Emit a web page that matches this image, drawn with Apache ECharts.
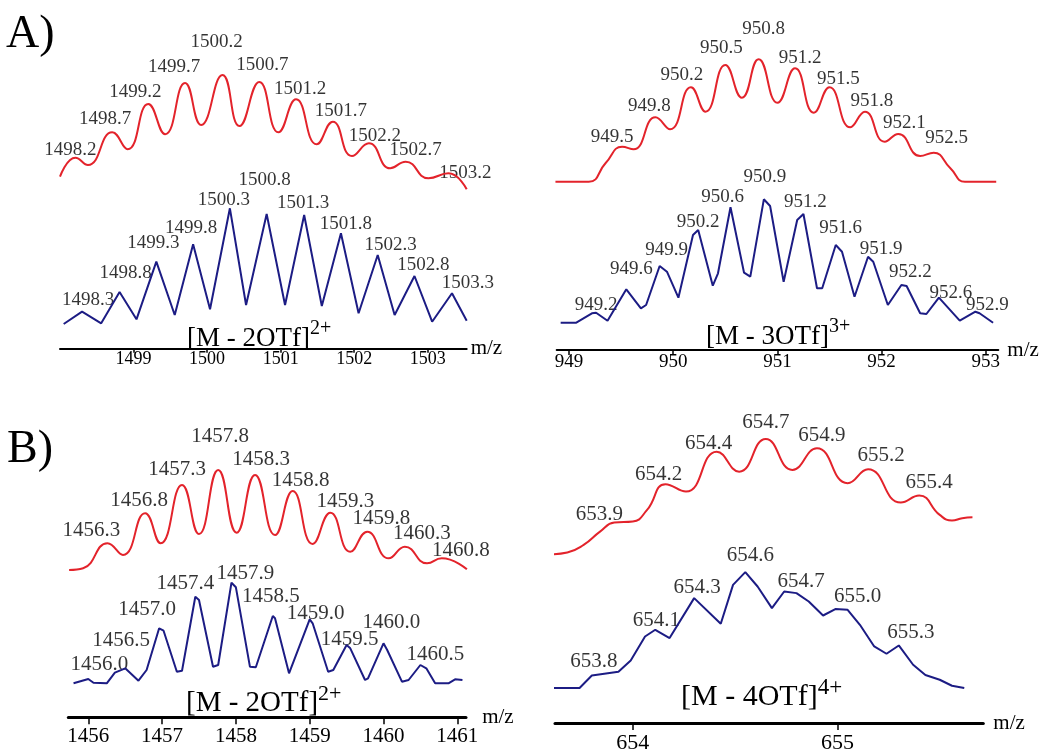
<!DOCTYPE html>
<html>
<head>
<meta charset="utf-8">
<script src="https://cdn.jsdelivr.net/npm/echarts@6/dist/echarts.min.js"></script>
<style>
  html, body { margin: 0; padding: 0; background: #fff; }
  #chart { width: 1050px; height: 754px; }
</style>
</head>
<body>
<div id="chart"></div>
<script>

// A) left: [M - 2OTf]2+
const aLeftTicks = [1499, 1500, 1501, 1502, 1503];
const aLeftRedMz = [1498.00, 1498.21, 1498.38, 1498.71, 1498.92, 1499.20, 1499.43, 1499.70, 1499.92, 1500.21, 1500.44, 1500.71, 1500.97, 1501.21, 1501.49, 1501.71, 1501.97, 1502.20, 1502.49, 1502.70, 1503.01, 1503.28, 1503.53];
const aLeftRedH = [172, 191, 183.7, 216.4, 199.4, 244.7, 214.4, 265.7, 223.7, 273.7, 222.7, 266.7, 216.4, 249.4, 204.4, 227, 192.7, 205.4, 180.4, 187, 170.4, 175.4, 159.4];
const aLeftRedPeakIdx = [1, 3, 5, 7, 9, 11, 13, 15, 17, 19, 21];
const aLeftRedPeakLabels = ['1498.2', '1498.7', '1499.2', '1499.7', '1500.2', '1500.7', '1501.2', '1501.7', '1502.2', '1502.7', '1503.2'];
const aLeftBlueMz = [1498.05, 1498.30, 1498.56, 1498.81, 1499.04, 1499.31, 1499.56, 1499.81, 1500.04, 1500.31, 1500.53, 1500.81, 1501.06, 1501.32, 1501.56, 1501.82, 1502.06, 1502.32, 1502.55, 1502.82, 1503.06, 1503.33, 1503.53];
const aLeftBlueH = [24.7, 37, 25.4, 56.7, 29.4, 87, 33.7, 104.4, 39.4, 140.4, 43.7, 134.7, 43.7, 133.7, 42.7, 115.4, 35.4, 93.7, 33.7, 72.7, 27, 55.4, 28];
const aLeftBluePeakIdx = [1, 3, 5, 7, 9, 11, 13, 15, 17, 19, 21];
const aLeftBluePeakLabels = ['1498.3', '1498.8', '1499.3', '1499.8', '1500.3', '1500.8', '1501.3', '1501.8', '1502.3', '1502.8', '1503.3'];

// A) right: [M - 3OTf]3+
const aRightTicks = [949, 950, 951, 952, 953];
const aRightRedMz = [948.87, 949.19, 949.35, 949.51, 949.62, 949.83, 949.97, 950.17, 950.31, 950.50, 950.66, 950.82, 951.00, 951.17, 951.35, 951.50, 951.70, 951.84, 952.03, 952.16, 952.37, 952.50, 952.66, 952.80, 953.10];
const aRightRedH = [168.3, 168.3, 186.7, 203.3, 200.7, 232.7, 220.7, 262.7, 238.3, 285, 252.3, 290.7, 247.3, 281.7, 237.3, 262.7, 222.7, 238.3, 208.3, 216, 194, 197.3, 181.7, 168.3, 168.3];
const aRightRedPeakIdx = [3, 5, 7, 9, 11, 13, 15, 17, 19, 21];
const aRightRedPeakLabels = ['949.5', '949.8', '950.2', '950.5', '950.8', '951.2', '951.5', '951.8', '952.1', '952.5'];
const aRightBlueMz = [948.92, 949.07, 949.22, 949.26, 949.37, 949.55, 949.69, 949.74, 949.87, 949.94, 950.05, 950.19, 950.24, 950.38, 950.43, 950.55, 950.68, 950.74, 950.87, 950.93, 951.06, 951.19, 951.25, 951.38, 951.43, 951.56, 951.62, 951.74, 951.87, 951.92, 952.06, 952.19, 952.24, 952.37, 952.43, 952.55, 952.75, 952.90, 952.94, 953.07];
const aRightBlueH = [27.3, 27.3, 36.7, 37.3, 29.3, 60.7, 41.7, 45, 84, 78.3, 52.3, 115, 120, 64.3, 76.7, 142.7, 77.3, 73.3, 150.7, 144, 68.3, 130, 136, 61.7, 61.7, 105, 98.3, 53.3, 93.3, 88.3, 45, 65, 64, 36.7, 36, 52.3, 29.3, 38.3, 36.7, 27.3];
const aRightBluePeakIdx = [3, 5, 8, 12, 15, 18, 22, 25, 28, 31, 35, 37];
const aRightBluePeakLabels = ['949.2', '949.6', '949.9', '950.2', '950.6', '950.9', '951.2', '951.6', '951.9', '952.2', '952.6', '952.9'];

// B) left: [M - 2OTf]2+
const bLeftTicks = [1456, 1457, 1458, 1459, 1460, 1461];
const bLeftRedMz = [1455.74, 1455.93, 1456.26, 1456.47, 1456.77, 1456.98, 1457.27, 1457.50, 1457.76, 1458.01, 1458.26, 1458.53, 1458.77, 1459.04, 1459.28, 1459.55, 1459.78, 1460.07, 1460.29, 1460.59, 1460.79, 1461.13];
const bLeftRedH = [147.3, 149, 174, 162.3, 204, 174, 232.3, 183.3, 247.3, 184.6, 242.3, 182.3, 226.3, 173.3, 204.6, 165.6, 185.6, 159, 170.6, 154, 159, 148];
const bLeftRedPeakIdx = [2, 4, 6, 8, 10, 12, 14, 16, 18, 20];
const bLeftRedPeakLabels = ['1456.3', '1456.8', '1457.3', '1457.8', '1458.3', '1458.8', '1459.3', '1459.8', '1460.3', '1460.8'];
const bLeftBlueMz = [1455.80, 1456.00, 1456.07, 1456.25, 1456.36, 1456.50, 1456.68, 1456.79, 1456.96, 1457.02, 1457.20, 1457.27, 1457.45, 1457.50, 1457.69, 1457.76, 1457.94, 1458.00, 1458.19, 1458.27, 1458.50, 1458.53, 1458.72, 1459.00, 1459.04, 1459.25, 1459.32, 1459.50, 1459.55, 1459.75, 1459.79, 1460.00, 1460.05, 1460.25, 1460.34, 1460.50, 1460.58, 1460.70, 1460.88, 1460.97, 1461.07];
const bLeftBlueH = [34, 38.3, 34.6, 34, 44.6, 49, 36.6, 47.3, 89, 86.6, 45.6, 46.6, 120.6, 117.3, 50.6, 52.3, 134.6, 130, 50.6, 50, 101.3, 99, 44, 98, 94, 45.6, 47.3, 72.3, 69, 37.3, 39, 74, 67.3, 35.6, 37.3, 52.3, 49, 34, 34, 38, 37.3];
const bLeftBluePeakIdx = [1, 5, 8, 12, 16, 20, 23, 27, 31, 35];
const bLeftBluePeakLabels = ['1456.0', '1456.5', '1457.0', '1457.4', '1457.9', '1458.5', '1459.0', '1459.5', '1460.0', '1460.5'];

// B) right: [M - 4OTf]4+
const bRightTicks = [654, 655];
const bRightRedMz = [653.61, 653.68, 653.76, 653.84, 653.91, 654.00, 654.07, 654.16, 654.26, 654.41, 654.52, 654.65, 654.78, 654.90, 655.05, 655.15, 655.31, 655.40, 655.50, 655.56, 655.61, 655.66];
const bRightRedH = [169, 170.6, 178.3, 191.6, 200.6, 201.6, 213.3, 239, 231.6, 271.6, 251.6, 284.3, 253.3, 275, 240, 254, 220.6, 227.6, 208.3, 202.6, 205, 206];
const bRightRedPeakIdx = [4, 7, 9, 11, 13, 15, 17];
const bRightRedPeakLabels = ['653.9', '654.2', '654.4', '654.7', '654.9', '655.2', '655.4'];
const bRightBlueMz = [653.61, 653.74, 653.80, 653.93, 653.99, 654.06, 654.11, 654.18, 654.30, 654.43, 654.49, 654.55, 654.61, 654.68, 654.74, 654.80, 654.86, 654.93, 654.99, 655.05, 655.11, 655.18, 655.24, 655.30, 655.37, 655.43, 655.50, 655.56, 655.62];
const bRightBlueH = [35, 35, 47.6, 51.3, 62.6, 86.6, 93.3, 85, 125, 99.3, 138.3, 151, 136.6, 115, 131.6, 130, 121.6, 107.6, 114, 113.3, 98.3, 76.6, 69.3, 77.6, 58.3, 48, 43.3, 37.3, 35];
const bRightBluePeakIdx = [2, 6, 8, 11, 14, 19, 23];
const bRightBluePeakLabels = ['653.8', '654.1', '654.3', '654.6', '654.7', '655.0', '655.3'];

const RED = '#e3232b';
const BLUE = '#1c1c84';
const INK = '#000';
const SERIF = 'Liberation Serif';

// label nudges [dx, px above the peak] - layout only
const panels = [
  {
    grid: {left: 60, top: 20, width: 406.7, height: 328.7}, min: 1498, max: 1503.53,
    ticks: aLeftTicks, tickFont: 18, margin: 2, tickLen: 4, axisW: 2, nameGap: 4, peakFont: 19,
    red: [aLeftRedMz, aLeftRedH, aLeftRedPeakIdx, aLeftRedPeakLabels,
      [[-5, 3], [-7, 9], [-13, 7], [-11, 11], [-6, 28], [3, 12], [4, 6], [8, 6], [6, 3], [10, 7], [17, -4]]],
    blue: [aLeftBlueMz, aLeftBlueH, aLeftBluePeakIdx, aLeftBluePeakLabels,
      [[6, 7], [6, 14], [-3, 14], [-2, 12], [-6, 4], [-2, 29], [-1, 7], [5, 5], [13, 5], [9, 6], [16, 6]]]
  },
  {
    grid: {left: 556.7, top: 20, width: 441.6, height: 330}, min: 948.882, max: 953.12,
    ticks: aRightTicks, tickFont: 19, margin: 3, tickLen: 5, axisW: 2, nameGap: 9, peakFont: 19,
    red: [aRightRedMz, aRightRedH, aRightRedPeakIdx, aRightRedPeakLabels,
      [[-10, 5], [-6, 7], [-9, 8], [-4, 12], [5, 26], [5, 6], [9, 4], [7, 6], [6, 6], [13, 10]]],
    blue: [aRightBlueMz, aRightBlueH, aRightBluePeakIdx, aRightBluePeakLabels,
      [[0, 3], [5, 16], [7, 11], [0, 3], [-8, 6], [1, 18], [2, 7], [5, 12], [13, 3], [9, 8], [12, 0], [12, 2]]]
  },
  {
    grid: {left: 68.3, top: 390, width: 397.7, height: 327.3}, min: 1455.729, max: 1461.118,
    ticks: bLeftTicks, tickFont: 21, margin: 9, tickLen: 7, axisW: 3, nameGap: 15, peakFont: 21,
    red: [bLeftRedMz, bLeftRedH, bLeftRedPeakIdx, bLeftRedPeakLabels,
      [[-16, 7], [-6, 7], [-5, 10], [2, 28], [6, 10], [8, 5], [15, 6], [14, 8], [17, 8], [19, 2]]],
    blue: [bLeftBlueMz, bLeftBlueH, bLeftBluePeakIdx, bLeftBluePeakLabels,
      [[11, 9], [-4, 22], [-12, 13], [-10, 8], [14, 4], [-2, 14], [6, 0], [3, 0], [8, 15], [15, 5]]]
  },
  {
    grid: {left: 555, top: 390, width: 428.3, height: 333.3}, min: 653.62, max: 655.713,
    ticks: bRightTicks, tickFont: 22, margin: 9, tickLen: 7, axisW: 3, nameGap: 10, peakFont: 21,
    red: [bRightRedMz, bRightRedH, bRightRedPeakIdx, bRightRedPeakLabels,
      [[-15, 3], [-7, 4], [-8, 3], [0, 11], [5, 7], [13, 8], [10, 8]]],
    blue: [bRightBlueMz, bRightBlueH, bRightBluePeakIdx, bRightBluePeakLabels,
      [[2, 8], [1, 4], [3, 5], [5, 11], [17, 5], [10, 8], [12, 7]]]
  }
];

function traceSeries(i, tr, color, smooth) {
  const mz = tr[0], h = tr[1];
  return {
    type: 'line', xAxisIndex: i, yAxisIndex: i, silent: true,
    showSymbol: false, smooth: smooth,
    lineStyle: {color: color, width: 2},
    data: mz.map((x, k) => [x, h[k]])
  };
}

function peakLabelSeries(i, tr, font) {
  const mz = tr[0], h = tr[1], idx = tr[2], text = tr[3], nudge = tr[4];
  return {
    type: 'scatter', xAxisIndex: i, yAxisIndex: i, silent: true,
    symbolSize: 0,
    label: {
      show: true, position: 'top', distance: 0,
      fontFamily: SERIF, fontSize: font, color: INK,
      formatter: p => text[p.dataIndex]
    },
    data: idx.map((k, j) => ({
      value: [mz[k], h[k]],
      label: {offset: [nudge[j][0], 5 - nudge[j][1]]}
    }))
  };
}

let grids = [], xAxes = [], yAxes = [], series = [];
panels.forEach((p, i) => {
  grids.push(p.grid);
  xAxes.push({
    type: 'value', gridIndex: i, min: p.min, max: p.max,
    name: 'm/z', nameLocation: 'end', nameGap: p.nameGap,
    nameTextStyle: {fontFamily: SERIF, fontSize: 21, color: INK},
    axisLine: {show: true, lineStyle: {color: INK, width: p.axisW}},
    axisTick: {show: true, inside: false, length: p.tickLen, customValues: p.ticks, lineStyle: {color: INK, width: 1.5}},
    axisLabel: {
      customValues: p.ticks, margin: p.margin,
      fontFamily: SERIF, fontSize: p.tickFont, color: INK,
      formatter: v => String(v)
    },
    splitLine: {show: false}
  });
  yAxes.push({type: 'value', gridIndex: i, min: 0, max: p.grid.height, show: false});
  series.push(traceSeries(i, p.red, RED, 0.5));
  series.push(traceSeries(i, p.blue, BLUE, false));
  series.push(peakLabelSeries(i, p.red, p.peakFont));
  series.push(peakLabelSeries(i, p.blue, p.peakFont));
});

function ionTitle(text, charge, left, top, size, supSize) {
  return {
    text: '{m|' + text + '}{s|' + charge + '}',
    left: left, top: top, padding: 0,
    textStyle: {
      fontWeight: 'normal',
      rich: {
        m: {fontFamily: SERIF, fontWeight: 'normal', fontSize: size, color: INK, lineHeight: size + 6, verticalAlign: 'bottom'},
        s: {fontFamily: SERIF, fontWeight: 'normal', fontSize: supSize, color: INK, lineHeight: supSize - 4, verticalAlign: 'top'}
      }
    }
  };
}

const chart = echarts.init(document.getElementById('chart'));
chart.setOption({
  animation: false,
  backgroundColor: '#fff',
  title: [
    {text: 'A)', left: 6, top: 12, padding: 0, textStyle: {fontFamily: SERIF, fontSize: 46, fontWeight: 'normal', color: INK}},
    {text: 'B)', left: 7, top: 427, padding: 0, textStyle: {fontFamily: SERIF, fontSize: 46, fontWeight: 'normal', color: INK}},
    ionTitle('[M - 2OTf]', '2+', 187, 319, 27, 20),
    ionTitle('[M - 3OTf]', '3+', 706, 317, 27, 20),
    ionTitle('[M - 2OTf]', '2+', 186, 683, 29, 22),
    ionTitle('[M - 4OTf]', '4+', 681, 676, 30, 23)
  ],
  grid: grids,
  xAxis: xAxes,
  yAxis: yAxes,
  series: series
});
</script>
</body>
</html>
